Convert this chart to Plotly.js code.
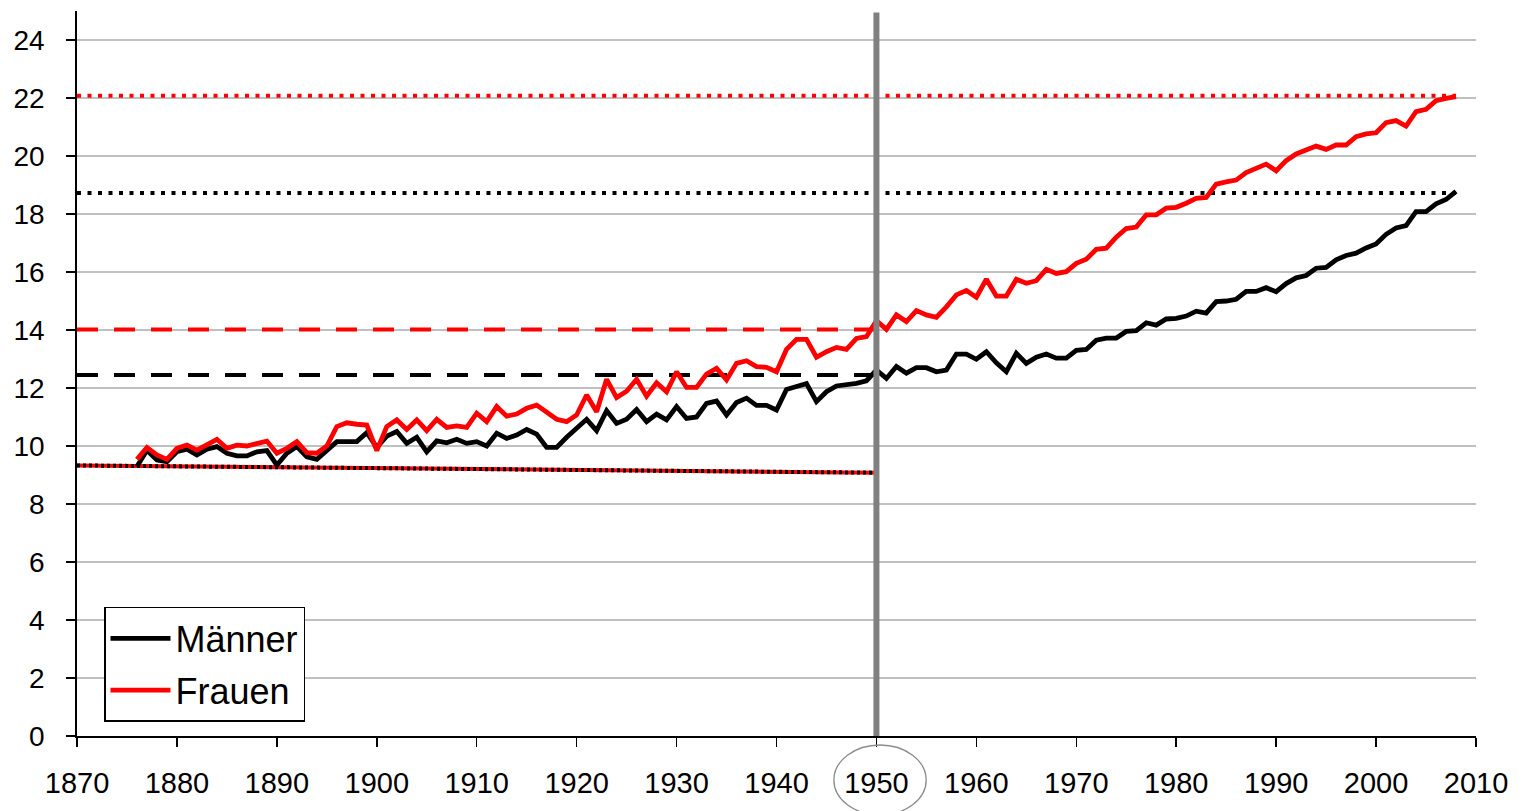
<!DOCTYPE html>
<html>
<head>
<meta charset="utf-8">
<script src="https://cdn.plot.ly/plotly-3.0.1.min.js"></script>
<style>html,body{margin:0;padding:0;background:#fff;}#chart{width:1524px;height:811px;}</style>
</head>
<body>
<div id="chart"></div>
<script>
// ---- data ----
const firstYear = 1876;
const lastYear = 2008;
const years = [];
for (let y = firstYear; y <= lastYear; y++) years.push(y);

const maenner = [
  9.29, 9.85, 9.52, 9.46, 9.80, 9.89, 9.69, 9.89, 9.98, 9.75,
  9.66, 9.66, 9.80, 9.84, 9.34, 9.75, 9.98, 9.63, 9.54, 9.86,
  10.15, 10.15, 10.15, 10.46, 9.95, 10.34, 10.50, 10.09, 10.30, 9.80,
  10.18, 10.11, 10.23, 10.09, 10.15, 10.00, 10.44, 10.26, 10.38, 10.57,
  10.41, 9.95, 9.95, 10.30, 10.61, 10.92, 10.53, 11.22, 10.78, 10.92,
  11.26, 10.84, 11.10, 10.90, 11.36, 10.95, 11.00, 11.47, 11.55, 11.07,
  11.50, 11.65, 11.40, 11.40, 11.24, 11.95, 12.05, 12.15, 11.53, 11.87,
  12.07, 12.10, 12.16, 12.25, 12.62, 12.33, 12.74, 12.51, 12.70, 12.70,
  12.56, 12.62, 13.17, 13.17, 12.99, 13.25, 12.87, 12.56, 13.20, 12.85,
  13.06, 13.17, 13.03, 13.03, 13.30, 13.33, 13.65, 13.72, 13.72, 13.95,
  13.98, 14.25, 14.17, 14.38, 14.40, 14.48, 14.65, 14.58, 14.98, 15.00,
  15.06, 15.33, 15.33, 15.46, 15.32, 15.60, 15.80, 15.88, 16.13, 16.16,
  16.42, 16.57, 16.65, 16.83, 16.97, 17.30, 17.52, 17.60, 18.08, 18.08,
  18.35, 18.50, 18.78
];

const frauen = [
  9.54, 9.95, 9.69, 9.54, 9.92, 10.03, 9.86, 10.03, 10.23, 9.92,
  10.03, 10.00, 10.07, 10.17, 9.75, 9.92, 10.15, 9.77, 9.75, 10.00,
  10.67, 10.80, 10.75, 10.72, 9.84, 10.67, 10.90, 10.57, 10.90, 10.53,
  10.92, 10.64, 10.69, 10.64, 11.13, 10.84, 11.36, 11.03, 11.10, 11.30,
  11.41, 11.18, 10.92, 10.84, 11.07, 11.76, 11.18, 12.30, 11.67, 11.89,
  12.30, 11.72, 12.18, 11.87, 12.56, 12.02, 12.02, 12.48, 12.68, 12.28,
  12.85, 12.94, 12.74, 12.71, 12.56, 13.33, 13.68, 13.68, 13.06, 13.25,
  13.40, 13.33, 13.71, 13.77, 14.32, 14.02, 14.52, 14.29, 14.67, 14.52,
  14.44, 14.80, 15.21, 15.36, 15.13, 15.75, 15.17, 15.17, 15.75, 15.61,
  15.70, 16.09, 15.95, 16.01, 16.30, 16.44, 16.78, 16.82, 17.20, 17.50,
  17.55, 17.97, 17.97, 18.20, 18.23, 18.37, 18.54, 18.57, 19.03, 19.11,
  19.17, 19.43, 19.57, 19.72, 19.49, 19.84, 20.07, 20.21, 20.34, 20.23,
  20.38, 20.38, 20.67, 20.76, 20.80, 21.15, 21.22, 21.03, 21.53, 21.61,
  21.91, 21.99, 22.05
];

// reference lines
const refEarlyX = [1870, 1950];
const refFullX = [1870, 2008];
const maennerNiveau1950 = [12.45, 12.45];
const frauenNiveau1950 = [14.02, 14.02];
const maennerNiveau2008 = [18.72, 18.72];
const frauenNiveau2008 = [22.08, 22.08];
const trendFrueh = [9.33, 9.08];
const markYear = 1950;

const xTicks = [1870, 1880, 1890, 1900, 1910, 1920, 1930, 1940, 1950, 1960, 1970, 1980, 1990, 2000, 2010];
const yTicks = [0, 2, 4, 6, 8, 10, 12, 14, 16, 18, 20, 22, 24];

const BLACK = '#000000';
const RED = '#ff0000';

const refBase = {type: 'scatter', mode: 'lines', showlegend: false, hoverinfo: 'skip'};

const traces = [
  Object.assign({}, refBase, {x: refFullX, y: frauenNiveau2008, line: {color: RED, width: 4, dash: '4px,6.5px'}}),
  Object.assign({}, refBase, {x: refFullX, y: maennerNiveau2008, line: {color: BLACK, width: 4, dash: '4px,6.5px'}}),
  Object.assign({}, refBase, {x: refEarlyX, y: frauenNiveau1950, line: {color: RED, width: 4, dash: '21px,16px'}}),
  Object.assign({}, refBase, {x: refEarlyX, y: maennerNiveau1950, line: {color: BLACK, width: 4, dash: '21px,16px'}}),
  Object.assign({}, refBase, {x: refEarlyX, y: trendFrueh, line: {color: RED, width: 4}}),
  Object.assign({}, refBase, {x: refEarlyX, y: trendFrueh, line: {color: BLACK, width: 4, dash: '3px,3px'}}),
  {type: 'scatter', mode: 'lines', name: 'Männer', legendgroup: 'm', x: years, y: maenner, line: {color: BLACK, width: 4.8}},
  {type: 'scatter', mode: 'lines', name: 'Frauen', legendgroup: 'f', x: years, y: frauen, line: {color: RED, width: 4.8}}
];

const FONT = 'Liberation Sans, Arial, sans-serif';

const layout = {
  width: 1524,
  height: 811,
  margin: {l: 77, r: 48, t: 11, b: 75, pad: 0},
  paper_bgcolor: '#ffffff',
  plot_bgcolor: '#ffffff',
  font: {family: FONT, color: '#000', size: 29},
  showlegend: true,
  legend: {
    x: 0.0193, y: 0.178, xanchor: 'left', yanchor: 'top',
    bgcolor: '#ffffff', bordercolor: '#000', borderwidth: 1.5,
    font: {family: FONT, size: 36, color: '#000'},
    itemwidth: 60, traceorder: 'grouped', tracegroupgap: 2
  },
  xaxis: {
    range: [1870, 2010],
    tickmode: 'array', tickvals: xTicks,
    ticks: 'outside', ticklen: 9, tickwidth: 1.5, tickcolor: '#000',
    showline: true, linecolor: '#000', linewidth: 1.8,
    showgrid: false, zeroline: false,
    tickfont: {size: 29, family: FONT, color: '#000'},
    ticklabelstandoff: 11,
    fixedrange: true
  },
  yaxis: {
    range: [0, 25],
    tickmode: 'array', tickvals: yTicks,
    ticks: 'outside', ticklen: 9, tickwidth: 1.5, tickcolor: '#000',
    showline: true, linecolor: '#000', linewidth: 1.8,
    showgrid: true, gridcolor: '#c0c0c0', gridwidth: 1.5,
    zeroline: false,
    tickfont: {size: 28, family: FONT, color: '#000'},
    ticklabelstandoff: 16,
    fixedrange: true
  },
  shapes: [
    {type: 'line', xref: 'x', yref: 'paper', x0: markYear, x1: markYear, y0: 0, y1: 0.998,
     line: {color: '#808080', width: 6}, layer: 'above'},
    {type: 'circle', xref: 'paper', yref: 'paper', x0: 0.541, x1: 0.607, y0: -0.109, y1: -0.0124,
     line: {color: '#8c8c8c', width: 1.3}, fillcolor: 'rgba(0,0,0,0)', layer: 'above'}
  ]
};

Plotly.newPlot('chart', traces, layout, {displayModeBar: false, staticPlot: true});
</script>
</body>
</html>
